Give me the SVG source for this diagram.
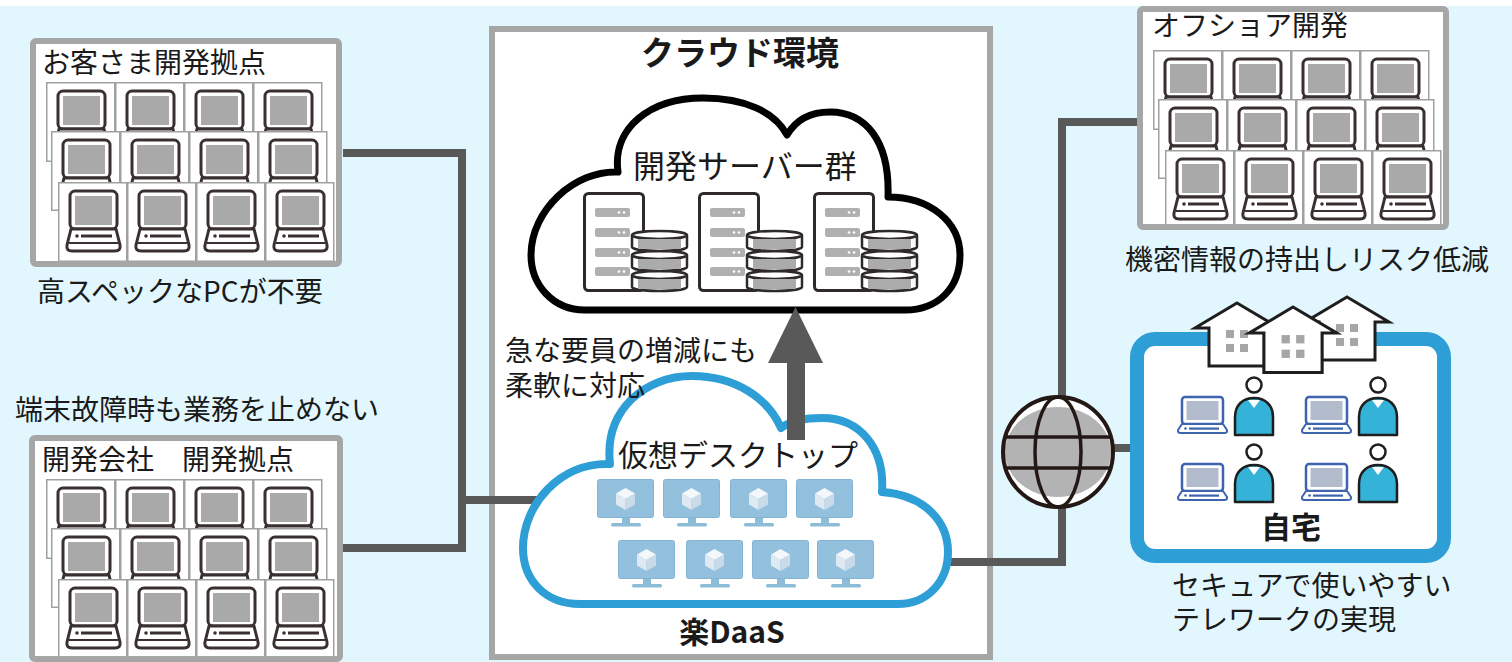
<svg xmlns="http://www.w3.org/2000/svg" xmlns:xlink="http://www.w3.org/1999/xlink" width="1512" height="662" viewBox="0 0 1512 662">
<style>
  .t{font-family:"Noto Sans CJK JP","Noto Sans",sans-serif;fill:#1a1a1a;font-size:28px}
  .tight{font-family:"Liberation Sans","Noto Sans CJK JP",sans-serif}
  .b{font-weight:700}
  .mid{text-anchor:middle}
  .frame{fill:#fff;stroke:#a6a6a6;stroke-width:6}
  .wire{fill:none;stroke:#595959;stroke-width:8}
  .ink{stroke:#2f2a2a;stroke-width:3;fill:#fff}
  .slot{fill:#b0b0b0}
  .dot{fill:#fff}
  .house{fill:#fff;stroke:#1e1e1e;stroke-width:3}
  .win{fill:#a6a6a6}
</style>
<defs>
  <!-- laptop tile used in the office grids -->
  <g id="pc">
    <rect x="0.75" y="0.75" width="68" height="78.5" fill="#fff" stroke="#a0a0a0" stroke-width="1.5"/>
    <rect x="12" y="9" width="47" height="38" rx="5" fill="#fff" stroke="#3a3030" stroke-width="3"/>
    <rect x="17" y="14" width="37" height="29" fill="#a9a9a9"/>
    <path d="M13 47 H58 L62 63 Q63 69 57 69 H14 Q8 69 9 63 Z" fill="#fff" stroke="#3a3030" stroke-width="3" stroke-linejoin="round"/>
    <circle cx="19" cy="54" r="1.8" fill="#3a3030"/>
    <rect x="23" y="52.5" width="31" height="3" fill="#3a3030"/>
    <line x1="11" y1="61" x2="60" y2="61" stroke="#3a3030" stroke-width="2"/>
  </g>
  <g id="pcRow">
    <use href="#pc" x="0" y="0"/>
    <use href="#pc" x="69" y="0"/>
    <use href="#pc" x="138" y="0"/>
    <use href="#pc" x="207" y="0"/>
  </g>
  <g id="pcGrid">
    <use href="#pcRow" x="0" y="0"/>
    <use href="#pcRow" x="5" y="49"/>
    <use href="#pcRow" x="12" y="100"/>
  </g>

  <!-- server tower with disk stack -->
  <g id="disk">
    <path d="M0 4 V16 A27.5 4 0 0 0 55 16 V4 A27.5 4 0 0 0 0 4 A27.5 4 0 0 0 55 4" fill="#fff" stroke="#2f2a2a" stroke-width="2.5"/>
    <rect x="6" y="8" width="43" height="10" fill="#ababab"/>
  </g>
  <g id="server">
    <rect x="1.5" y="1.5" width="59" height="97" rx="4" class="ink"/>
    <rect x="12" y="16" width="35" height="9" rx="2" class="slot"/>
    <rect x="12" y="36" width="35" height="9" rx="2" class="slot"/>
    <rect x="12" y="56" width="35" height="9" rx="2" class="slot"/>
    <rect x="12" y="75" width="35" height="9" rx="2" class="slot"/>
    <g class="dot">
      <circle cx="36" cy="20.5" r="1.3"/><circle cx="41" cy="20.5" r="1.3"/>
      <circle cx="36" cy="40.5" r="1.3"/><circle cx="41" cy="40.5" r="1.3"/>
      <circle cx="36" cy="60.5" r="1.3"/><circle cx="41" cy="60.5" r="1.3"/>
      <circle cx="36" cy="79.5" r="1.3"/><circle cx="41" cy="79.5" r="1.3"/>
    </g>
    <use href="#disk" x="49" y="79"/>
    <use href="#disk" x="49" y="59"/>
    <use href="#disk" x="49" y="39"/>
  </g>

  <!-- virtual desktop monitor -->
  <g id="vd">
    <rect x="0.5" y="0.5" width="56" height="38" rx="2" fill="#93c0dd" stroke="#84b4d4"/>
    <polygon points="28.5,9 38,14.5 28.5,20 19,14.5" fill="#f4f8fb"/>
    <polygon points="19,14.5 28.5,20 28.5,31 19,25.5" fill="#dfe9f1"/>
    <polygon points="28.5,20 38,14.5 38,25.5 28.5,31" fill="#c9dbe8"/>
    <rect x="25" y="39" width="8" height="5" fill="#8dbcd9"/>
    <rect x="14" y="44" width="30" height="3.5" rx="1.5" fill="#8dbcd9"/>
  </g>

  <!-- house outline, origin at roof apex -->
  <g id="house">
    <path d="M0 0 L42 25 H28 V63 H-28 V25 H-42 Z" class="house" stroke-linejoin="miter"/>
    <rect x="-11" y="27" width="8" height="8" class="win"/>
    <rect x="3" y="27" width="8" height="8" class="win"/>
    <rect x="-11" y="41" width="8" height="8" class="win"/>
    <rect x="3" y="41" width="8" height="8" class="win"/>
  </g>

  <!-- remote worker with laptop -->
  <g id="worker">
    <rect x="4" y="20" width="41" height="27" rx="3" fill="#fff" stroke="#3e64ad" stroke-width="2.5"/>
    <rect x="8.5" y="24" width="32" height="19" fill="#b3bccc"/>
    <path d="M4 47 H45 L49 53 Q49.5 56 46.5 56 H2.5 Q-0.5 56 0 53 Z" fill="#fff" stroke="#3e64ad" stroke-width="2" stroke-linejoin="round"/>
    <circle cx="7.5" cy="51.5" r="1.3" fill="#3e64ad"/>
    <rect x="11" y="50.5" width="30" height="2.2" fill="#3e64ad"/>
    <circle cx="76" cy="8" r="7.5" fill="#fff" stroke="#1e1e1e" stroke-width="2.5"/>
    <path d="M57 58 V40 C57 28 65 21 76 21 C87 21 95 28 95 40 V58 Z" fill="#35b2d8" stroke="#1e1e1e" stroke-width="2.5" stroke-linejoin="round"/>
    <path d="M70 23 L82 23 L76 31 Z" fill="#fff"/>
  </g>
</defs>

<!-- backdrop -->
<rect x="0" y="0" width="1512" height="662" fill="#fff"/>
<rect x="0" y="6" width="1512" height="656" fill="#e1f6fd"/>

<!-- cloud platform frame -->
<g id="cloud-env">
  <rect x="492" y="29" width="498" height="628" class="frame"/>
  <text x="740" y="65" class="t b mid" style="font-size:33px">クラウド環境</text>
</g>

<!-- network links -->
<g id="connectors">
  <path d="M343 153 H462 V548 H343" class="wire"/>
  <path d="M462 500 H591" class="wire"/>
  <path d="M879 562 H1062 V508" class="wire"/>
  <path d="M1062 396 V122 H1138" class="wire"/>
  <path d="M1112 448 H1131" class="wire"/>
</g>

<!-- customer development site -->
<g id="customer-site">
  <rect x="33" y="41" width="306" height="223" fill="#fff"/>
  <use href="#pcGrid" x="46" y="82"/>
  <rect x="33" y="41" width="306" height="223" rx="3" fill="none" stroke="#a6a6a6" stroke-width="6"/>
  <text x="42" y="73" class="t">お客さま開発拠点</text>
</g>
<text x="37" y="302" class="t">高スペックなPCが不要</text>

<!-- partner development site -->
<text x="15" y="420" class="t">端末故障時も業務を止めない</text>
<g id="partner-site">
  <rect x="32" y="438" width="308" height="221" fill="#fff"/>
  <use href="#pcGrid" x="46" y="479"/>
  <rect x="32" y="438" width="308" height="221" rx="3" fill="none" stroke="#a6a6a6" stroke-width="6"/>
  <text x="42" y="470" class="t">開発会社　開発拠点</text>
</g>

<!-- offshore development -->
<g id="offshore-site">
  <rect x="1140" y="9" width="306" height="218" fill="#fff"/>
  <use href="#pcGrid" x="1153" y="50"/>
  <rect x="1140" y="9" width="306" height="218" rx="3" fill="none" stroke="#a6a6a6" stroke-width="6"/>
  <text x="1152" y="36" class="t">オフショア開発</text>
</g>
<text x="1125" y="270" class="t">機密情報の持出しリスク低減</text>

<!-- development server cloud -->
<g id="server-cloud">
  <path d="M585 310 C553 310 531 285 531 255 C531 210 575 170 618 172 C612 128 650 98 703 98 C745 98 775 112 787 135 C797 118 812 112 830 112 C865 112 890 140 888 197 C930 197 960 222 960 255 C960 288 938 310 905 310 Z" fill="#fff" stroke="#000" stroke-width="7" stroke-linejoin="round"/>
  <text x="633" y="178" class="t" style="font-size:32px">開発サーバー群</text>
  <use href="#server" x="583" y="192"/>
  <use href="#server" x="698" y="192"/>
  <use href="#server" x="813" y="192"/>
</g>

<!-- virtual desktop cloud -->
<g id="vdi-cloud">
  <path d="M580 604 C545 604 523 580 523 548 C523 505 560 462 610 464 C604 410 645 376 692 376 C735 376 768 398 781 428 C792 420 805 418 822 418 C860 418 885 448 882 492 C925 495 948 522 948 552 C948 582 927 604 898 604 Z" fill="#fff" stroke="#2e9fd6" stroke-width="8" stroke-linejoin="round"/>
  <use href="#vd" x="597" y="479"/>
  <use href="#vd" x="663" y="479"/>
  <use href="#vd" x="730" y="479"/>
  <use href="#vd" x="796" y="479"/>
  <use href="#vd" x="618" y="540"/>
  <use href="#vd" x="686" y="540"/>
  <use href="#vd" x="752" y="540"/>
  <use href="#vd" x="817" y="540"/>
  <text x="618" y="466" class="t" style="font-size:30px">仮想デスクトップ</text>
  <text x="732" y="643" class="t b mid" style="font-size:30px">楽DaaS</text>
</g>

<!-- scale-up arrow -->
<g id="scale-arrow" fill="#595959">
  <rect x="787" y="358" width="18" height="82"/>
  <polygon points="768,363 795.5,307 823,363"/>
</g>
<text x="505" y="361" class="t tight">急な要員の増減にも</text>
<text x="505" y="396" class="t tight">柔軟に対応</text>

<!-- internet -->
<g id="internet">
  <circle cx="1058" cy="452" r="55" fill="#fff"/>
  <ellipse cx="1058" cy="452" rx="53" ry="45" fill="#b3b3b3"/>
  <line x1="1005" y1="437" x2="1111" y2="437" stroke="#231815" stroke-width="3.5"/>
  <line x1="1005" y1="468" x2="1111" y2="468" stroke="#231815" stroke-width="3.5"/>
  <ellipse cx="1058" cy="452" rx="23" ry="55" fill="none" stroke="#231815" stroke-width="3.5"/>
  <circle cx="1058" cy="452" r="55" fill="none" stroke="#231815" stroke-width="4"/>
</g>

<!-- home office -->
<g id="home">
  <rect x="1137" y="339" width="307" height="217" rx="18" fill="#fff" stroke="#2e9fd6" stroke-width="14"/>
  <use href="#house" transform="translate(1347 297)"/>
  <use href="#house" transform="translate(1237 303)"/>
  <use href="#house" transform="translate(1293 307) scale(1.04)"/>
  <use href="#worker" x="1178" y="377"/>
  <use href="#worker" x="1302" y="377"/>
  <use href="#worker" x="1178" y="444"/>
  <use href="#worker" x="1302" y="444"/>
  <text x="1291" y="538" class="t b mid" style="font-size:30px">自宅</text>
</g>
<text x="1172" y="596" class="t tight">セキュアで使いやすい</text>
<text x="1172" y="630" class="t tight">テレワークの実現</text>
</svg>
